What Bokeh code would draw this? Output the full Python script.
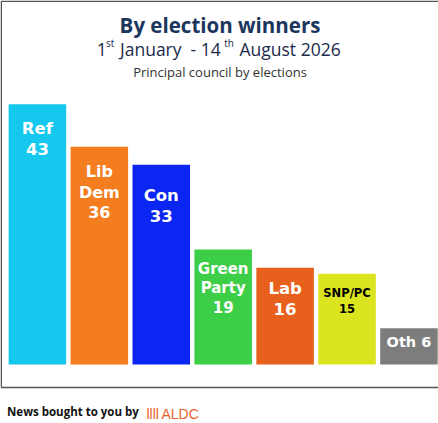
import numpy as np
from bokeh.plotting import figure
from bokeh.models import ColumnDataSource, Range1d, Label
from bokeh.embed import file_html
from bokeh.resources import INLINE
from bokeh.core.properties import value

# ---------------- data ----------------
parties = ["Ref", "Lib Dem", "Con", "Green Party", "Lab", "SNP/PC", "Oth"]
seats = [43, 36, 33, 19, 16, 15, 6]
title_text = "By election winners"
date_pieces = ["1", "st", "January\u00a0 - 14", "th", "August 2026"]
subtitle_text = "Principal council by elections"
footer_text = "News bought to you by"
logo_mark = "llll"
logo_text = "ALDC"

# ---------------- styles ----------------
bar_colors = {"Ref": "#16c7ee", "Lib Dem": "#f47d20", "Con": "#0b25f2",
              "Green Party": "#3dce47", "Lab": "#e8611c", "SNP/PC": "#dce41f",
              "Oth": "#7d7d7d"}
label_colors = {k: "white" for k in parties}
label_colors["SNP/PC"] = "black"
label_sizes = {"Ref": "16.5px", "Lib Dem": "16px", "Con": "16.5px",
               "Green Party": "15px", "Lab": "16.5px", "SNP/PC": "11.5px",
               "Oth": "14.5px"}
label_gap = {"Ref": 15, "Lib Dem": 15, "Con": 21, "Green Party": 10,
             "Lab": 11, "SNP/PC": 12.5, "Oth": 6}

W, H = 438, 423
BASE = 364      # pixel row (from top) of the zero line
PPU = 6.05      # pixels per seat
X0, X1 = -0.596, 6.477


def px2x(fx):
    return X0 + fx * (X1 - X0) / W


def px2y(t):
    return (BASE - t) / PPU


def label_for(name, n):
    if name == "Oth":
        return f"{name} {n}"
    return name.replace(" ", "\n") + f"\n{n}"


src = ColumnDataSource(dict(
    x=list(range(len(parties))),
    party=parties,
    seats=seats,
    color=[bar_colors[k] for k in parties],
    label=[label_for(k, n) for k, n in zip(parties, seats)],
    tc=[label_colors[k] for k in parties],
    fs=[label_sizes[k] for k in parties],
    yo=[label_gap[k] for k in parties],
))

p = figure(width=W, height=H, output_backend="svg", toolbar_location=None,
           x_range=Range1d(X0, X1), y_range=Range1d(px2y(H), px2y(0)),
           x_axis_location=None, y_axis_location=None, min_border=0)
p.grid.visible = False
p.outline_line_color = None
p.background_fill_color = "white"
p.border_fill_color = "white"

p.vbar(x="x", top="seats", bottom=0, width=0.929, fill_color="color",
       line_color=None, source=src)

p.text(x="x", y="seats", text="label", text_font=value("DejaVu Sans"),
       text_font_style="bold", text_font_size="fs", text_color="tc",
       text_align="center", text_baseline="top", y_offset="yo",
       text_line_height=1.1, source=src)

# frame lines (left, top, bottom)
fx0, fx1 = px2x(0.75), px2x(W + 5)
fy_top, fy_bot = px2y(0.75), px2y(387)
p.segment(x0=[fx0, fx0, fx0], y0=[fy_bot, fy_top, fy_bot],
          x1=[fx0, fx1, fx1], y1=[fy_top, fy_top, fy_bot],
          line_color="#555555", line_width=1.5)


def lab(text, x, t, size, color, font="Open Sans", style="normal", align="left"):
    p.add_layout(Label(x=x, y=H - t, x_units="screen", y_units="screen",
                       text=text, text_font=font, text_font_size=size,
                       text_font_style=style, text_color=color,
                       text_align=align, text_baseline="alphabetic"))


lab(title_text, 219.5, 24, "20.5px", "#1b365d", style="bold", align="center")
sub_x = [96.2, 105.5, 119.5, 223.7, 239]
sub_t = [48.5, 42, 48.5, 42, 48.5]
sub_s = ["17.5px", "10px", "17.5px", "10px", "17.5px"]
for txt, sx, st, ss in zip(date_pieces, sub_x, sub_t, sub_s):
    lab(txt, sx, st, ss, "#1c2b4a")
lab(subtitle_text, 219.5, 71.7, "13px", "#333333", align="center")

lab(footer_text, 6.5, 411, "11.5px", "#111111", style="bold")
lab(logo_mark, 146, 413, "14px", "#e8612c", font="Liberation Sans")
lab(logo_text, 161, 413, "14px", "#e8612c", font="Liberation Sans")

open("out.html", "w").write(file_html(p, INLINE))
